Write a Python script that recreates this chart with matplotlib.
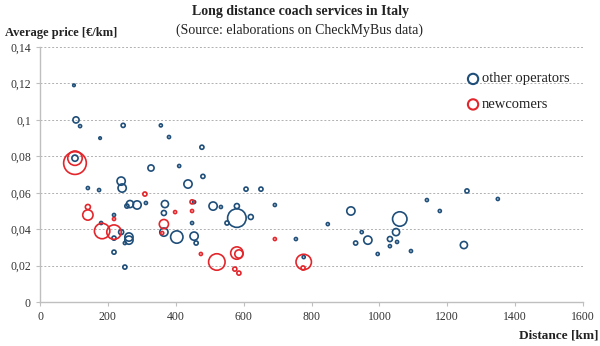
import matplotlib.pyplot as plt
from matplotlib.ticker import FuncFormatter, MultipleLocator

# other operators: distance [km], average price [EUR/km], relative volume
other_km = [100, 106, 118, 177, 245, 356, 380, 477, 327, 410, 480, 103, 141, 174,
            239, 242, 436, 312, 368, 265, 286, 256, 510, 533, 454, 607, 651, 580,
            692, 916, 1140, 1258, 1349, 218, 180, 218, 239, 262, 262, 250, 218, 250,
            365, 365, 403, 454, 460, 448, 580, 551, 621, 848, 754, 777, 948, 930,
            966, 995, 1031, 1049, 1031, 1052, 1060, 1093, 1178, 1249]
other_price = [0.119, 0.100, 0.0966, 0.090, 0.097, 0.097, 0.0906, 0.085, 0.0736,
               0.0747, 0.069, 0.079, 0.0626, 0.0615, 0.0664, 0.0626, 0.0648, 0.0544,
               0.0538, 0.0538, 0.0533, 0.0527, 0.0527, 0.0522, 0.0549, 0.062, 0.062,
               0.0527, 0.0533, 0.050, 0.056, 0.061, 0.0566, 0.0478, 0.0434, 0.0351,
               0.0384, 0.0357, 0.034, 0.0324, 0.0274, 0.0192, 0.0489, 0.0384, 0.0357,
               0.0362, 0.0324, 0.0434, 0.0461, 0.0434, 0.0467, 0.0428, 0.0346, 0.0247,
               0.0384, 0.0324, 0.034, 0.0264, 0.0346, 0.0384, 0.0307, 0.033, 0.0456,
               0.028, 0.050, 0.0313]
other_vol = [1.5, 9, 2.2, 1.5, 4, 2.2, 2.2, 4, 9, 2.2, 4, 9, 2.2, 2.2,
             16, 16, 16, 2.2, 12, 12, 16, 4, 16, 2.2, 2.2, 4, 4, 6,
             2.2, 16, 2.2, 4, 2.2, 2.2, 2.2, 4, 6, 16, 16, 2.2, 4, 4,
             6, 16, 36, 16, 4, 2.2, 81, 4, 6, 2.2, 2.2, 2.2, 2.2, 4,
             16, 2.2, 6, 12, 2.2, 2.2, 49, 2.2, 2.2, 12]

# newcomers
new_km = [103, 103, 309, 448, 398, 448, 141, 141, 218, 183, 218, 365, 360,
          474, 521, 580, 586, 574, 586, 692, 777, 775]
new_price = [0.0763, 0.079, 0.0593, 0.055, 0.0494, 0.050, 0.0522, 0.0478, 0.0456,
             0.039, 0.0384, 0.0428, 0.0379, 0.0264, 0.022, 0.0269, 0.0264, 0.0181,
             0.0159, 0.0346, 0.022, 0.0187]
new_vol = [121, 49, 4, 4, 2.2, 2.2, 6, 25, 2.2, 56, 49, 20, 2.2,
           2.2, 64, 36, 16, 4, 4, 2.2, 56, 4]

BLUE = "#1f4e79"
RED = "#e3262b"
SCALE = 2.2

plt.rcParams["font.family"] = ["Liberation Serif", "DejaVu Serif"]

fig = plt.figure(figsize=(6.0, 3.46), dpi=100)
ax = fig.add_axes([0.0667, 0.127, 0.905, 0.737])

ax.scatter(other_km, other_price, s=[v * SCALE for v in other_vol],
           facecolors="none", edgecolors=BLUE, linewidths=1.2, zorder=3)
ax.scatter(new_km, new_price, s=[v * SCALE for v in new_vol],
           facecolors="none", edgecolors=RED, linewidths=1.2, zorder=3)

ax.set_xlim(0, 1600)
ax.set_ylim(0, 0.14)
ax.xaxis.set_major_locator(MultipleLocator(200))
ax.yaxis.set_major_locator(MultipleLocator(0.02))
ax.yaxis.set_major_formatter(FuncFormatter(
    lambda v, p: "0" if abs(v) < 1e-9 else f"{v:.2f}".rstrip("0").replace(".", ",")))

ax.grid(axis="y", color="#b0b0b0", linestyle=(0, (2, 2)), linewidth=0.7)
ax.set_axisbelow(True)
for s in ["top", "right"]:
    ax.spines[s].set_visible(False)
for s in ["left", "bottom"]:
    ax.spines[s].set_color("#bfbfbf")
    ax.spines[s].set_linewidth(1.0)
ax.tick_params(axis="both", colors="#bfbfbf", labelcolor="#333333",
               labelsize=8.5, length=3, width=0.8)

# legend
ax.scatter([1276], [0.1225], s=55, facecolors="none", edgecolors=BLUE,
           linewidths=1.5, clip_on=False)
ax.text(1302, 0.1225, "other operators", fontsize=10.5, va="center", color="#222222")
ax.scatter([1276], [0.1085], s=55, facecolors="none", edgecolors=RED,
           linewidths=1.5, clip_on=False)
ax.text(1302, 0.1085, "newcomers", fontsize=10.5, va="center", color="#222222")

fig.text(0.5, 0.967, "Long distance coach services in Italy", ha="center",
         va="center", fontsize=10, fontweight="bold", color="#222222")
fig.text(0.5, 0.913, "(Source: elaborations on CheckMyBus data)", ha="center",
         va="center", fontsize=10, color="#222222")
fig.text(0.008, 0.905, "Average price [\u20ac/km]", ha="left", va="center",
         fontsize=9, fontweight="bold", color="#222222")
fig.text(0.997, 0.03, "Distance [km]", ha="right", va="center",
         fontsize=9.5, fontweight="bold", color="#222222")

fig.savefig("out.png", dpi=100)
